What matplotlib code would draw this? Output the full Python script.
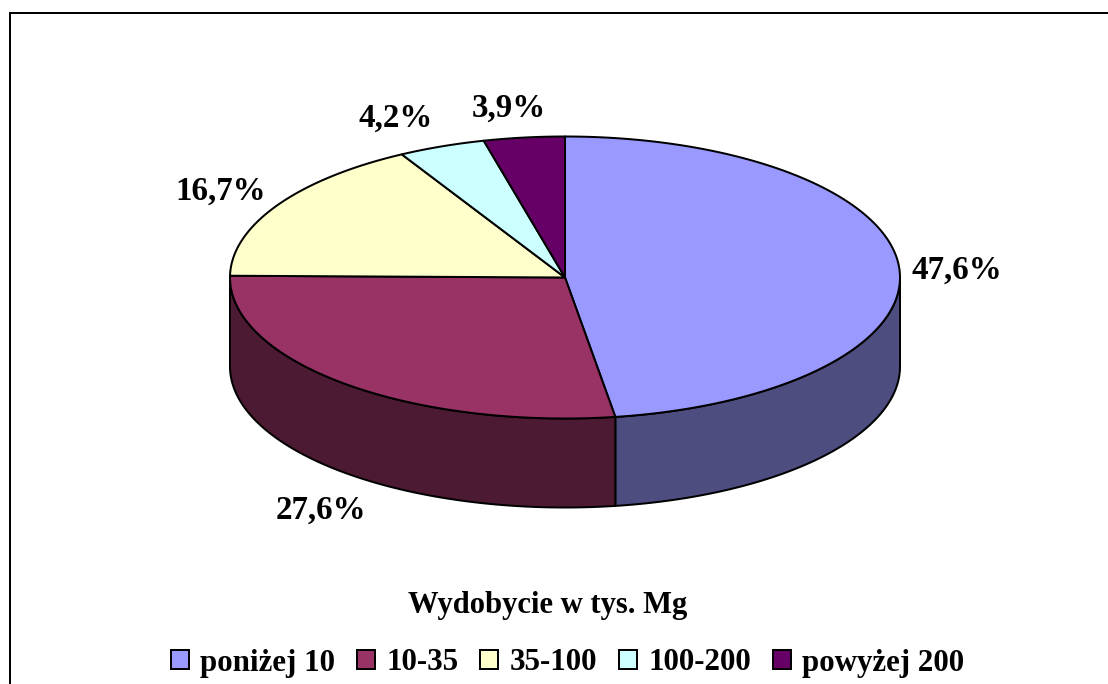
import numpy as np
import matplotlib
matplotlib.use("Agg")
import matplotlib.pyplot as plt
from matplotlib.patches import Polygon, Patch
from matplotlib.lines import Line2D

categories = ["poniżej 10", "10-35", "35-100", "100-200", "powyżej 200"]
shares = [47.6, 27.6, 16.7, 4.2, 3.9]
top_colors = ["#9999FF", "#993366", "#FFFFCC", "#CCFFFF", "#660066"]
side_colors = ["#4D4D80", "#4D1A33", "#80806A", "#6A8080", "#330033"]
chart_title = "Wydobycie w tys. Mg"

# layout, in image pixels
W, H = 1108, 684
CX, CY, RX, RY, DEPTH = 565.0, 277.5, 335.0, 141.0, 89.0
LABEL_CENTRES = [(956.5, 270), (320.5, 510), (220.5, 191), (396, 118), (508.5, 108)]
PX = 72 / 100  # points per pixel at dpi 100
LW = 2 * PX

plt.rcParams["font.family"] = ["Liberation Serif", "DejaVu Serif"]
plt.rcParams["font.weight"] = "bold"

fig = plt.figure(figsize=(W / 100, H / 100), dpi=100, facecolor="white")
ax = fig.add_axes([0, 0, 1, 1])
ax.set_xlim(0, W)
ax.set_ylim(H, 0)
ax.axis("off")


def rim(a0, a1):
    """Points on the top ellipse, clock angles in radians from 12 o'clock."""
    n = max(int(abs(a1 - a0) * 120), 2)
    t = np.linspace(a0, a1, n)
    return np.column_stack([CX + RX * np.sin(t), CY - RY * np.cos(t)])


edges = 2 * np.pi * np.concatenate([[0], np.cumsum(shares)]) / sum(shares)

# side wall: only the front half of the ellipse shows
for a0, a1, c in zip(edges[:-1], edges[1:], side_colors):
    lo, hi = max(a0, np.pi / 2), min(a1, 3 * np.pi / 2)
    if hi <= lo:
        continue
    arc = rim(lo, hi)
    pts = np.vstack([arc, (arc + [0, DEPTH])[::-1]])
    ax.add_patch(Polygon(pts, closed=True, facecolor=c, edgecolor="black",
                         linewidth=LW, joinstyle="round", zorder=2))

# top face
for a0, a1, c in zip(edges[:-1], edges[1:], top_colors):
    pts = np.vstack([[CX, CY], rim(a0, a1)])
    ax.add_patch(Polygon(pts, closed=True, facecolor=c, edgecolor="black",
                         linewidth=LW, joinstyle="round", zorder=3))

# value labels
for v, (x, y) in zip(shares, LABEL_CENTRES):
    ax.text(x, y, f"{v:.1f}%".replace(".", ","), fontsize=33 * PX,
            ha="center", va="center", color="black", zorder=5)

ax.text(548, 606, chart_title, fontsize=30.6 * PX, ha="center", va="center",
        color="black")

# legend
handles = [Patch(facecolor=c, edgecolor="black", linewidth=LW) for c in top_colors]
leg = ax.legend(handles, categories, loc="center", ncols=5,
                bbox_to_anchor=(567.5 / W, 1 - 663 / H),
                bbox_transform=ax.transAxes, frameon=False,
                prop={"size": 31 * PX, "weight": "bold"},
                handlelength=0.58, handleheight=0.58, handletextpad=0.36,
                columnspacing=0.71, borderpad=0, borderaxespad=0)

# chart frame, running off the picture at right and bottom
ax.add_line(Line2D([10, 10, W + 5], [H + 5, 13, 13], color="black",
                   linewidth=LW, solid_joinstyle="miter", zorder=6))

fig.savefig("out.png", dpi=100, facecolor="white")
